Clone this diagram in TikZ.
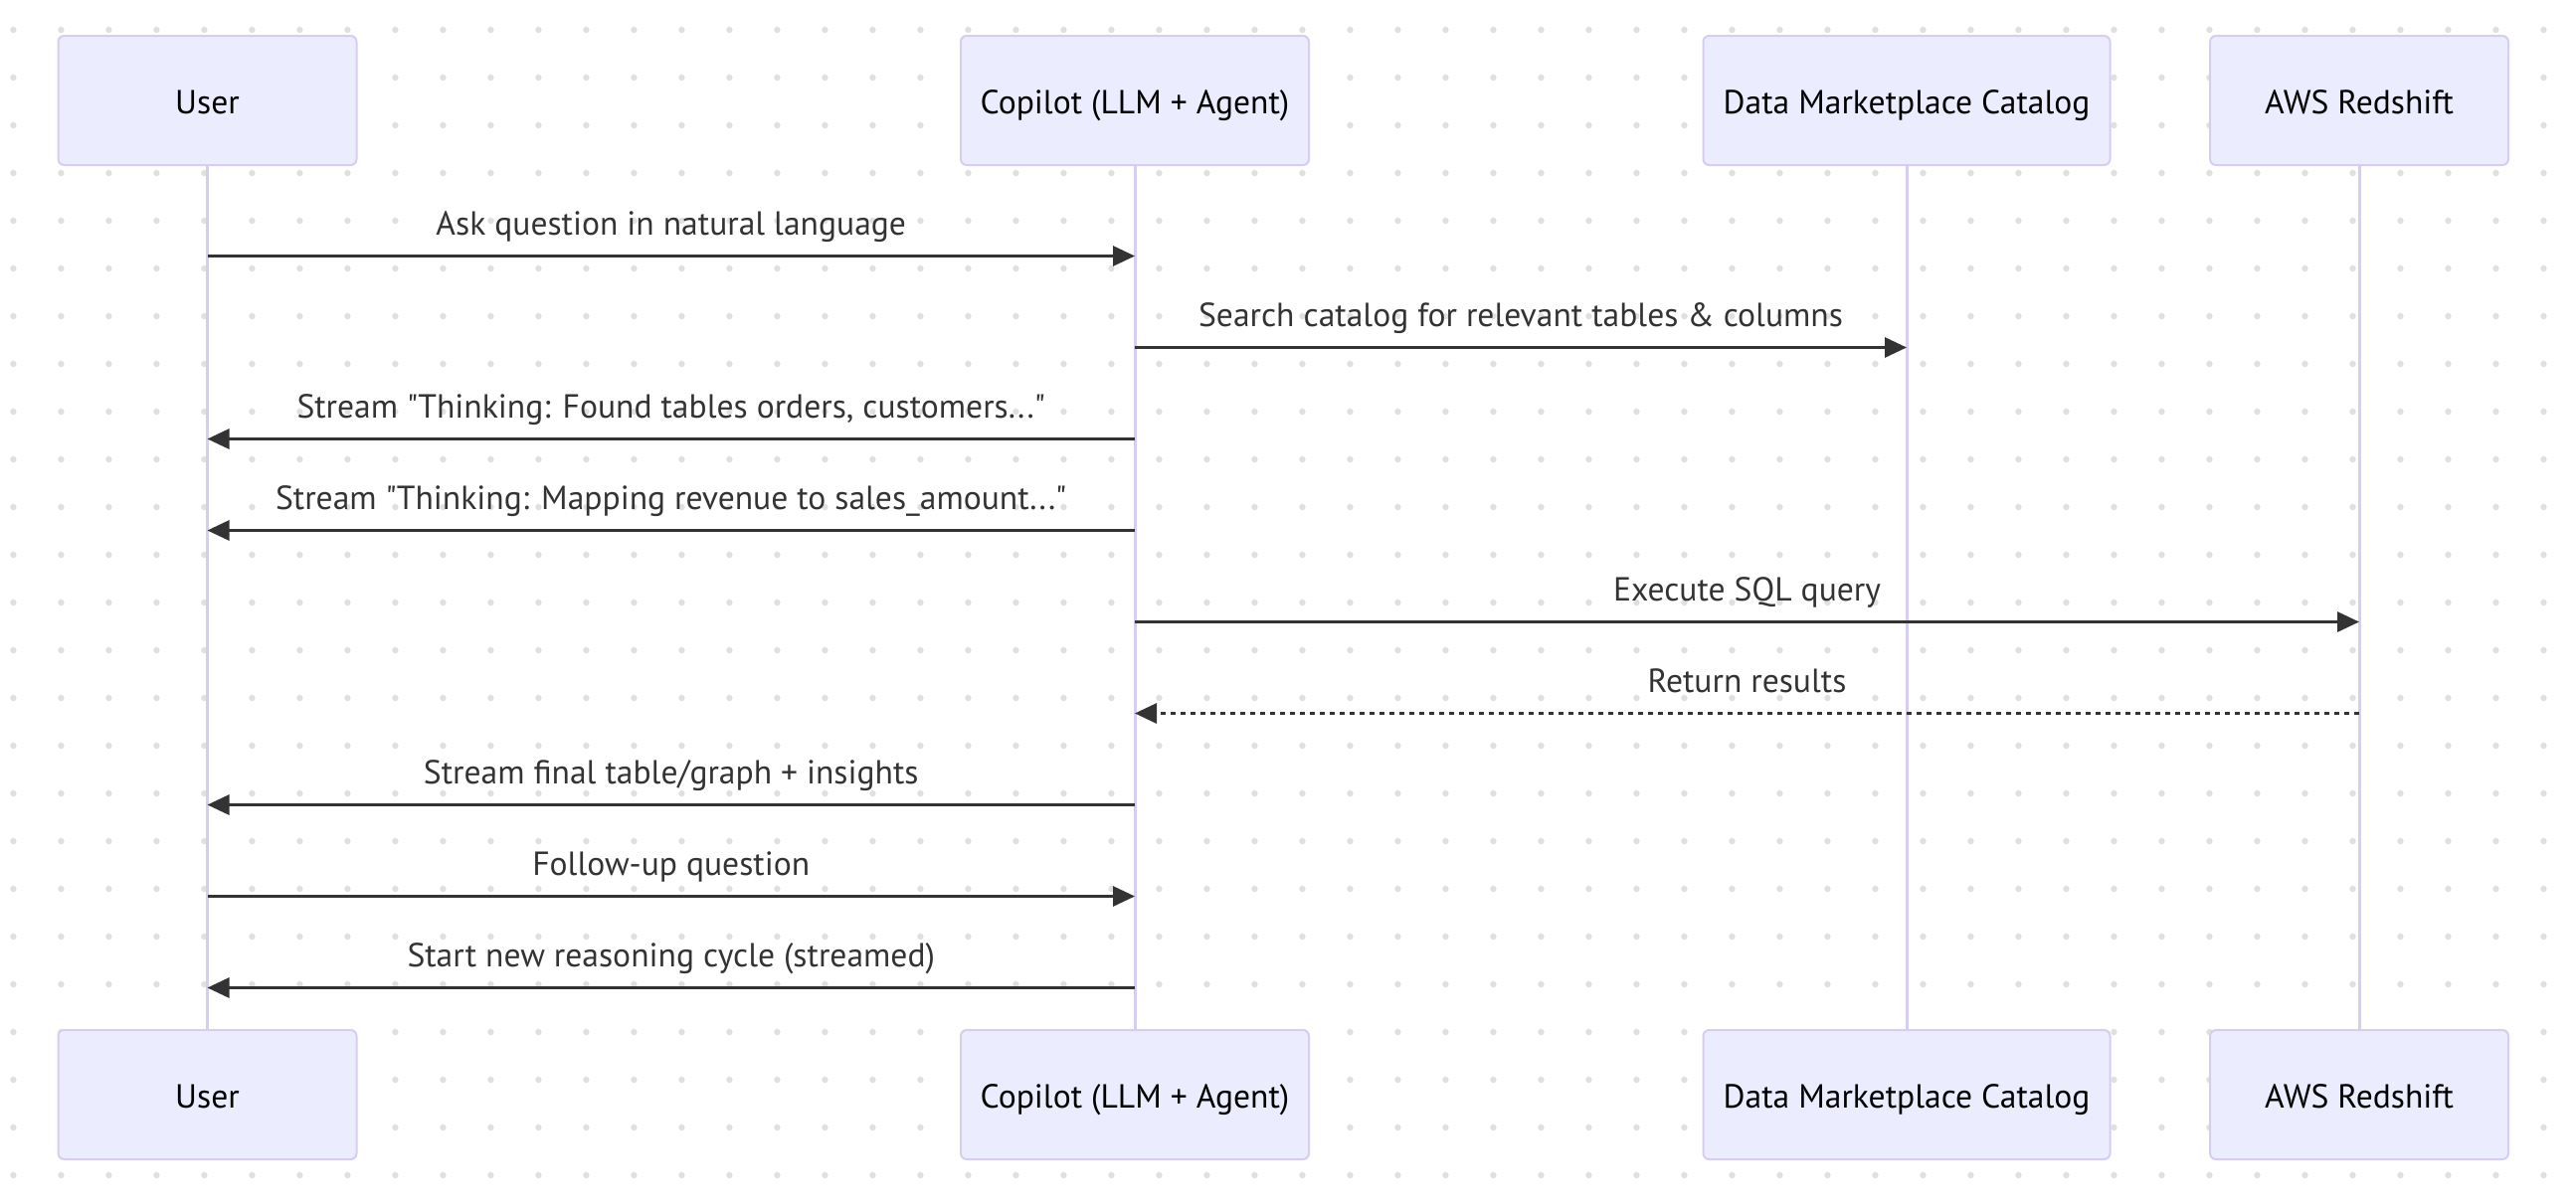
\documentclass[tikz,border=0pt]{standalone}
\usepackage{fontspec}
\setmainfont{PT Sans}
\usetikzlibrary{positioning,arrows.meta}

\definecolor{actfill}{HTML}{ECECFF}
\definecolor{actline}{HTML}{D6CDF1}
\definecolor{msgcol}{HTML}{333333}
\definecolor{dotcol}{HTML}{E0E0E0}

\tikzset{
  actor/.style={draw=actline, fill=actfill, line width=1pt, rounded corners=3pt,
    minimum height=65pt, inner sep=0pt, text height=13pt, text depth=0pt,
    font=\fontsize{16.8}{20}\selectfont},
  life/.style={draw=actline, line width=1.5pt},
  msg/.style={draw=msgcol, line width=1.5pt, -{Triangle[length=11pt,width=10pt]}},
  reply/.style={msg, dash pattern=on 2.5pt off 2.5pt},
  lbl/.style={anchor=base, yshift=10.5pt, text=msgcol, font=\fontsize{16.8}{20}\selectfont}
}

\begin{document}
\begin{tikzpicture}[x=0.5pt,y=-0.5pt]
  \useasboundingbox[fill=white] (0,0) rectangle (2590,1210);
  % dotted background
  \foreach \i in {0,...,53}
    \foreach \j in {0,...,24}
      \fill[dotcol] (13.4+48*\i,30+48*\j) circle (1.6pt);

  % participants
  \draw node[actor, minimum width=150pt] (uTop) at (208.5,101) {User};
  \draw node[actor, minimum width=175pt] (cTop) at (1141,101) {Copilot (LLM + Agent)};
  \draw node[actor, minimum width=204.5pt] (dTop) at (1917,101) {Data Marketplace Catalog};
  \draw node[actor, minimum width=150pt] (aTop) at (2372,101) {AWS Redshift};
  \draw node[actor, minimum width=150pt, below=434pt of uTop] (uBot) {User};
  \draw node[actor, minimum width=175pt, below=434pt of cTop] (cBot) {Copilot (LLM + Agent)};
  \draw node[actor, minimum width=204.5pt, below=434pt of dTop] (dBot) {Data Marketplace Catalog};
  \draw node[actor, minimum width=150pt, below=434pt of aTop] (aBot) {AWS Redshift};

  % lifelines
  \draw[life] (uTop) -- (uBot);
  \draw[life] (cTop) -- (cBot);
  \draw[life] (dTop) -- (dBot);
  \draw[life] (aTop) -- (aBot);

  % message rows
  \coordinate (r1) at (0,257.5);
  \coordinate (r2) at (0,349.5);
  \coordinate (r3) at (0,441.5);
  \coordinate (r4) at (0,533.5);
  \coordinate (r5) at (0,625.5);
  \coordinate (r6) at (0,717.5);
  \coordinate (r7) at (0,809.5);
  \coordinate (r8) at (0,901.5);
  \coordinate (r9) at (0,993.5);

  \draw[msg] (uTop |- r1) -- (cTop |- r1)
    node[midway, lbl] {Ask question in natural language};
  \draw[msg] (cTop |- r2) -- (dTop |- r2)
    node[midway, lbl] {Search catalog for relevant tables \& columns};
  \draw[msg] (cTop |- r3) -- (uTop |- r3)
    node[midway, lbl] {Stream \textquotedbl Thinking: Found tables orders, customers...\textquotedbl};
  \draw[msg] (cTop |- r4) -- (uTop |- r4)
    node[midway, lbl] {Stream \textquotedbl Thinking: Mapping revenue to sales\_amount...\textquotedbl};
  \draw[msg] (cTop |- r5) -- (aTop |- r5)
    node[midway, lbl] {Execute SQL query};
  \draw[reply] (aTop |- r6) -- (cTop |- r6)
    node[midway, lbl] {Return results};
  \draw[msg] (cTop |- r7) -- (uTop |- r7)
    node[midway, lbl] {Stream final table/graph + insights};
  \draw[msg] (uTop |- r8) -- (cTop |- r8)
    node[midway, lbl] {Follow-up question};
  \draw[msg] (cTop |- r9) -- (uTop |- r9)
    node[midway, lbl] {Start new reasoning cycle (streamed)};
\end{tikzpicture}
\end{document}
